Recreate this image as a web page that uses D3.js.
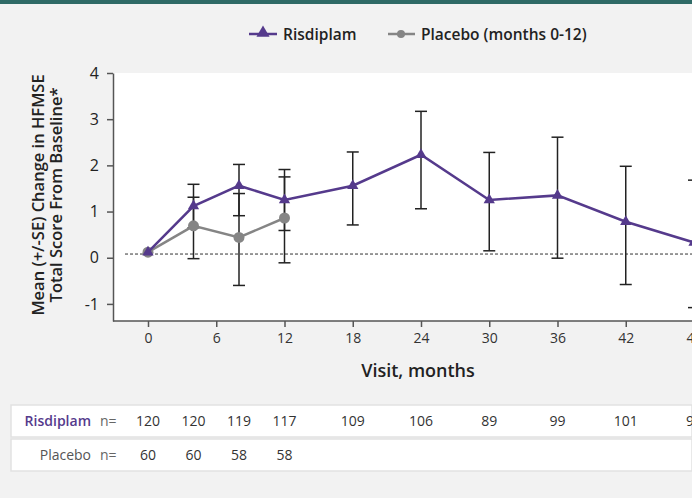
<!DOCTYPE html>
<html>
<head>
<meta charset="utf-8">
<script src="https://cdn.jsdelivr.net/npm/d3@7"></script>
<style>
  body { margin: 0; background: #f2f2f2; }
  text { font-family: "Open Sans", Arial, sans-serif; }
</style>
</head>
<body>
<div id="chart"></div>
<script>
// Visit months and mean (+/-SE) change in HFMSE
const months = [0, 4, 8, 12, 18, 24, 30, 36, 42, 48];
const risMean = [0.12, 1.12, 1.56, 1.25, 1.56, 2.23, 1.25, 1.35, 0.78, 0.33];
const risLo = [null, 0.65, 0.91, 0.59, 0.71, 1.06, 0.15, -0.01, -0.58, -1.08];
const risHi = [null, 1.59, 2.02, 1.91, 2.29, 3.17, 2.28, 2.61, 1.98, 1.68];

const plaMonths = [0, 4, 8, 12];
const plaMean = [0.12, 0.69, 0.44, 0.86];
const plaLo = [null, -0.02, -0.60, -0.11];
const plaHi = [null, 1.31, 1.39, 1.75];

const xTicks = [0, 6, 12, 18, 24, 30, 36, 42, 48];
const yTicks = [-1, 0, 1, 2, 3, 4];
const baselineRef = 0.08;

// number of patients at each visit
const risN = [120, 120, 119, 117, 109, 106, 89, 99, 101, 98];
const plaN = [60, 60, 58, 58];

const width = 692, height = 498;
const purple = "#553a8c", grey = "#858585", ink = "#222";

const svg = d3.select("#chart")
    .append("svg")
    .attr("width", width)
    .attr("height", height);

// teal strip at the top
svg.append("rect")
    .attr("x", 0).attr("y", 0)
    .attr("width", width).attr("height", 4)
    .attr("fill", "#2f6a66");

const x = d3.scaleLinear().domain([0, 48]).range([148, 694]);
const y = d3.scaleLinear().domain([-1.37, 4]).range([321, 73]);

// white plot area
svg.append("rect")
    .attr("x", 113).attr("y", y(4))
    .attr("width", width - 113).attr("height", y(-1.37) - y(4))
    .attr("fill", "#fff");

// dashed reference line
svg.append("line")
    .attr("x1", 125).attr("x2", width)
    .attr("y1", y(baselineRef)).attr("y2", y(baselineRef))
    .attr("stroke", "#333")
    .attr("stroke-width", 1)
    .attr("stroke-dasharray", "3,2");

// axes
const xAxis = svg.append("g")
    .attr("transform", `translate(0,${y(-1.37)})`)
    .call(d3.axisBottom(x).tickValues(xTicks).tickSize(6).tickPadding(6).tickSizeOuter(0));
xAxis.select(".domain").attr("d", `M113,0H${width}`);

const yAxis = svg.append("g")
    .attr("transform", "translate(113,0)")
    .call(d3.axisLeft(y).tickValues(yTicks).tickFormat(d => String(d))
        .tickSize(6).tickPadding(8).tickSizeOuter(0));

[xAxis, yAxis].forEach(g => {
    g.selectAll(".domain").attr("stroke", "#555").attr("stroke-width", 1.5);
    g.selectAll(".tick line").attr("stroke", "#555").attr("stroke-width", 1.5);
    g.selectAll(".tick text")
        .attr("fill", "#333")
        .style("font-size", "14px")
        .style("font-family", "'Open Sans', Arial, sans-serif");
});
yAxis.selectAll(".tick text").style("font-size", "16px").attr("fill", "#222");

// error bars
function errorBars(ms, lo, hi) {
    const g = svg.append("g").attr("stroke", ink).attr("stroke-width", 1.5);
    ms.forEach((m, i) => {
        if (lo[i] === null) return;
        const cx = x(m);
        g.append("line").attr("x1", cx).attr("x2", cx).attr("y1", y(lo[i])).attr("y2", y(hi[i]));
        g.append("line").attr("x1", cx - 6).attr("x2", cx + 6).attr("y1", y(lo[i])).attr("y2", y(lo[i]));
        g.append("line").attr("x1", cx - 6).attr("x2", cx + 6).attr("y1", y(hi[i])).attr("y2", y(hi[i]));
    });
}
errorBars(months, risLo, risHi);
errorBars(plaMonths, plaLo, plaHi);

const line = d3.line().x(d => x(d[0])).y(d => y(d[1]));

// placebo line and dots
svg.append("path")
    .datum(plaMonths.map((m, i) => [m, plaMean[i]]))
    .attr("d", line)
    .attr("fill", "none")
    .attr("stroke", grey)
    .attr("stroke-width", 2.5);

svg.append("g")
    .selectAll("circle")
    .data(plaMonths.map((m, i) => [m, plaMean[i]]))
    .enter().append("circle")
    .attr("cx", d => x(d[0]))
    .attr("cy", d => y(d[1]))
    .attr("r", 5.5)
    .attr("fill", grey);

// risdiplam line and triangles
svg.append("path")
    .datum(months.map((m, i) => [m, risMean[i]]))
    .attr("d", line)
    .attr("fill", "none")
    .attr("stroke", purple)
    .attr("stroke-width", 2.5);

const tri = d3.symbol().type(d3.symbolTriangle).size(55);
svg.append("g")
    .selectAll("path")
    .data(months.map((m, i) => [m, risMean[i]]))
    .enter().append("path")
    .attr("d", tri)
    .attr("transform", d => `translate(${x(d[0])},${y(d[1])})`)
    .attr("fill", purple);

// axis titles
svg.append("text")
    .attr("x", 418).attr("y", 377)
    .attr("text-anchor", "middle")
    .attr("fill", ink)
    .style("font-size", "18px")
    .style("font-weight", 600)
    .text("Visit, months");

const yTitle = svg.append("text")
    .attr("transform", "translate(0,195) rotate(-90)")
    .attr("text-anchor", "middle")
    .attr("fill", ink)
    .style("font-size", "16.5px")
    .style("font-weight", 600);
yTitle.append("tspan").attr("x", 0).attr("y", 44).text("Mean (+/-SE) Change in HFMSE");
yTitle.append("tspan").attr("x", 0).attr("y", 62).text("Total Score From Baseline*");

// legend
const leg = svg.append("g");
leg.append("line").attr("x1", 249).attr("x2", 277).attr("y1", 34).attr("y2", 34)
    .attr("stroke", purple).attr("stroke-width", 2.5);
leg.append("path").attr("d", d3.symbol().type(d3.symbolTriangle).size(75))
    .attr("transform", "translate(263,33)").attr("fill", purple);
leg.append("text").attr("x", 283).attr("y", 39.5)
    .attr("fill", ink).style("font-size", "15.5px").style("font-weight", 600)
    .text("Risdiplam");
leg.append("line").attr("x1", 388).attr("x2", 415).attr("y1", 34).attr("y2", 34)
    .attr("stroke", grey).attr("stroke-width", 2.5);
leg.append("circle").attr("cx", 401).attr("cy", 34).attr("r", 4).attr("fill", grey);
leg.append("text").attr("x", 421).attr("y", 39.5)
    .attr("fill", ink).style("font-size", "15.5px").style("font-weight", 600)
    .text("Placebo (months 0-12)");

// patient numbers table
const rows = [
    { label: "Risdiplam", color: purple, weight: 600, top: 405, ms: months, n: risN },
    { label: "Placebo", color: "#555", weight: 500, top: 439, ms: plaMonths, n: plaN }
];
rows.forEach(r => {
    svg.append("rect")
        .attr("x", 11).attr("y", r.top)
        .attr("width", width - 11).attr("height", 32)
        .attr("fill", "#fff")
        .attr("stroke", "#e2e2e2").attr("stroke-width", 1.5);
    const cy = r.top + 21;
    svg.append("text")
        .attr("x", 91).attr("y", cy)
        .attr("text-anchor", "end")
        .attr("fill", r.color)
        .style("font-size", "14px")
        .style("font-weight", r.weight)
        .text(r.label);
    svg.append("text")
        .attr("x", 100).attr("y", cy)
        .attr("fill", "#666")
        .style("font-size", "14px")
        .text("n=");
    svg.append("g")
        .selectAll("text")
        .data(r.ms.map((m, i) => [m, r.n[i]]))
        .enter().append("text")
        .attr("x", d => x(d[0]))
        .attr("y", cy)
        .attr("text-anchor", "middle")
        .attr("fill", "#333")
        .style("font-size", "14px")
        .text(d => d[1]);
});
</script>
</body>
</html>
